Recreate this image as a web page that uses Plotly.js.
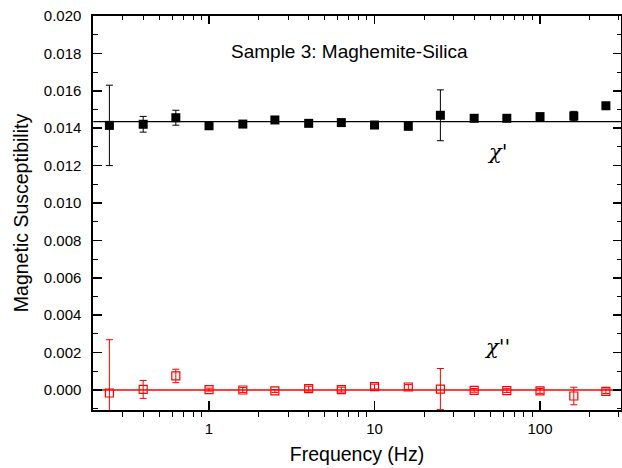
<!DOCTYPE html>
<html>
<head>
<meta charset="utf-8">
<script src="https://cdn.plot.ly/plotly-3.0.1.min.js"></script>
<style>
  html, body { margin: 0; padding: 0; background: #fff; }
  #chart { width: 622px; height: 468px; }
</style>
</head>
<body>
<div id="chart"></div>
<script>
// ---- data ----
const freq = [0.25, 0.4, 0.63, 1, 1.6, 2.5, 4, 6.3, 10, 16, 25, 40, 63, 100, 160, 250];
const chiReal = [0.01415, 0.01421, 0.01456, 0.01413, 0.01422, 0.01444, 0.01426, 0.01430,
                 0.01417, 0.01410, 0.01469, 0.01453, 0.01453, 0.01462, 0.01465, 0.01520];
const chiRealErr = [0.00215, 0.00042, 0.00040, 0.0001, 0.0001, 0.0001, 0.0001, 0.0001,
                    0.0001, 0.0001, 0.00136, 0.0001, 0.0001, 0.0001, 0.00025, 0.0001];
const chiImag = [-0.00016, 0.00003, 0.00075, 0.00002, 0.00000, -0.00005, 0.00007, 0.00002,
                 0.00018, 0.00016, 0.00005, -0.00002, -0.00003, -0.00005, -0.00032, -0.00007];
const chiImagErr = [0.00285, 0.00048, 0.00036, 0.00008, 0.00013, 0.00008, 0.00013, 0.00013,
                    0.00013, 0.00013, 0.00110, 0.00010, 0.00010, 0.00013, 0.00047, 0.00012];
const fitFreq = [0.2, 310];
const fitReal = [0.01435, 0.01435];
const fitImag = [0, 0];
const xTickVals = [1, 10, 100];
const xTickText = ['1', '10', '100'];
const xMinorVals = [0.2, 0.3, 0.4, 0.5, 0.6, 0.7, 0.8, 0.9, 2, 3, 4, 5, 6, 7, 8, 9,
                    20, 30, 40, 50, 60, 70, 80, 90, 200, 300];
const titleText = 'Sample 3: Maghemite-Silica';
const xTitle = 'Frequency (Hz)';
const yTitle = 'Magnetic Susceptibility';
const labelReal = "<i>χ</i>'";
const labelImag = "<i>χ</i>''";

const RED = '#ff0000';
const FONT = 'Arial, "Liberation Sans", sans-serif';
const SERIF = '"DejaVu Serif", "Liberation Serif", serif';
const xRange = [Math.log10(0.199), Math.log10(308.5)];
const yRange = [-0.00107, 0.020];

const traces = [
  { x: fitFreq, y: fitReal, mode: 'lines', line: { color: '#000', width: 1.3 }, showlegend: false, hoverinfo: 'skip' },
  { x: fitFreq, y: fitImag, mode: 'lines', line: { color: RED, width: 1.3 }, showlegend: false, hoverinfo: 'skip' },
  { x: freq, y: chiReal, mode: 'markers', showlegend: false,
    marker: { symbol: 'square', size: 9, color: '#000' },
    error_y: { type: 'data', array: chiRealErr, visible: true, color: '#000', thickness: 1, width: 3.5 } },
  { x: freq, y: chiImag, mode: 'markers', showlegend: false,
    marker: { symbol: 'square-open', size: 8, color: RED, line: { width: 1.2, color: RED } },
    error_y: { type: 'data', array: chiImagErr, visible: true, color: RED, thickness: 1, width: 3.5 } },
  { x: [], y: [], xaxis: 'x2', yaxis: 'y2', mode: 'markers', showlegend: false, hoverinfo: 'skip' }
];

const layout = {
  width: 622, height: 468,
  margin: { l: 93, r: 1, t: 16, b: 58, pad: 0 },
  paper_bgcolor: '#fff', plot_bgcolor: '#fff',
  font: { family: FONT, color: '#000', size: 15 },
  showlegend: false,
  xaxis: {
    type: 'log', range: xRange,
    tickmode: 'array', tickvals: xTickVals, ticktext: xTickText,
    ticks: 'inside', ticklen: 9, tickwidth: 1.5, tickcolor: '#000',
    minor: { tickmode: 'array', tickvals: xMinorVals, ticks: 'outside', ticklen: 5, tickwidth: 1, tickcolor: '#000', showgrid: false },
    ticklabelstandoff: 4,
    showline: true, linewidth: 1.6, linecolor: '#000', mirror: true,
    showgrid: false, zeroline: false,
    tickfont: { size: 15 },
    title: { text: xTitle, font: { size: 19.5 }, standoff: 12 }
  },
  xaxis2: {
    type: 'log', range: xRange, overlaying: 'x', side: 'top', anchor: 'y',
    tickmode: 'array', tickvals: xTickVals, ticks: 'inside', ticklen: 8, tickwidth: 1.5, tickcolor: '#000',
    minor: { tickmode: 'array', tickvals: xMinorVals, ticks: 'inside', ticklen: 4, tickwidth: 1, tickcolor: '#000', showgrid: false },
    showticklabels: false, showline: false, showgrid: false, zeroline: false
  },
  yaxis: {
    range: yRange, tick0: 0, dtick: 0.002, tickformat: '.3f',
    ticks: 'inside', ticklen: 9, tickwidth: 1.5, tickcolor: '#000',
    minor: { dtick: 0.001, ticks: 'inside', ticklen: 5, tickwidth: 1, tickcolor: '#000', showgrid: false },
    ticklabelstandoff: 7,
    showline: true, linewidth: 1.6, linecolor: '#000', mirror: true,
    showgrid: false, zeroline: false,
    tickfont: { size: 15 },
    title: { text: yTitle, font: { size: 19.5 }, standoff: 10 }
  },
  yaxis2: {
    range: yRange, overlaying: 'y', side: 'right', anchor: 'x', tick0: 0, dtick: 0.002,
    ticks: 'inside', ticklen: 8, tickwidth: 1.5, tickcolor: '#000',
    minor: { dtick: 0.001, ticks: 'inside', ticklen: 4, tickwidth: 1, tickcolor: '#000', showgrid: false },
    showticklabels: false, showline: false, showgrid: false, zeroline: false
  },
  annotations: [
    { text: titleText, xref: 'paper', yref: 'paper', x: 0.485, y: 0.91, showarrow: false,
      xanchor: 'center', yanchor: 'middle', font: { size: 19, family: FONT } },
    { text: labelReal, xref: 'paper', yref: 'paper', x: 0.767, y: 0.655, showarrow: false,
      xanchor: 'center', yanchor: 'middle', font: { size: 21, family: SERIF } },
    { text: labelImag, xref: 'paper', yref: 'paper', x: 0.765, y: 0.16, showarrow: false,
      xanchor: 'center', yanchor: 'middle', font: { size: 21, family: SERIF } }
  ]
};

Plotly.newPlot('chart', traces, layout, { displayModeBar: false, staticPlot: true });
</script>
</body>
</html>
